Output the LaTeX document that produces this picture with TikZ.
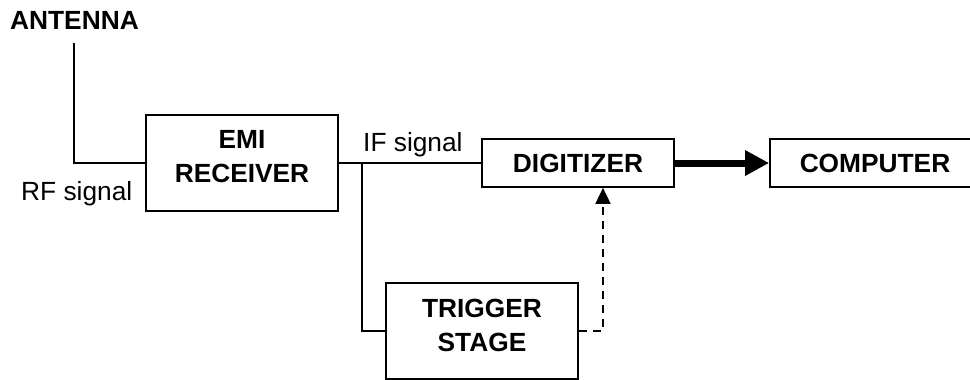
\documentclass[tikz,border=0pt]{standalone}
\usepackage{fontspec}
\setmainfont{Liberation Sans}
\usetikzlibrary{arrows.meta}
\begin{document}
\begin{tikzpicture}[x=1pt,y=-1pt,
  every node/.style={font=\fontsize{26.3}{34}\selectfont, inner sep=0pt},
  blk/.style={draw, line width=1.7pt, align=center, font=\fontsize{26.3}{34}\selectfont\bfseries},
  wire/.style={line width=1.7pt},
  lbl/.style={anchor=base west}]
\useasboundingbox (0,0) rectangle (970,380);
\node[blk, minimum width=192pt, minimum height=96pt, text depth=12.6pt] (emi) at (242,163) {EMI\\RECEIVER};
\node[blk, minimum width=192pt, minimum height=48pt] (dig) at (578,163) {DIGITIZER};
\node[blk, minimum width=210pt, minimum height=48pt] (comp) at (875,163) {COMPUTER};
\node[blk, minimum width=192pt, minimum height=96pt, text depth=11.8pt] (trig) at (482,331) {TRIGGER\\STAGE};
\node[lbl, font=\fontsize{26.3}{34}\selectfont\bfseries] (ant) at (10,30) {ANTENNA};
\node[lbl] (rf) at (21,200) {RF signal};
\node[lbl] (if) at (363,151) {IF signal};
\coordinate (atop) at (74,43);
\coordinate (acorner) at (74,163);
\coordinate (branch) at (362,163);
\coordinate (bcorner) at (362,331);
\coordinate (dcorner) at (603,331);
\draw[wire] (atop) -- (acorner) -- (emi.west);
\draw[wire] (emi.east) -- (dig.west);
\draw[wire] (branch) -- (bcorner) -- (trig.west);
\draw[line width=7pt, -{Triangle[length=24pt,width=24pt]}] (dig.east) -- (comp.west);
\draw[line width=1.7pt, dash pattern=on 8pt off 6pt, -{Triangle[length=16pt,width=15pt]}] (trig.east) -- (dcorner) -- (dcorner |- dig.south);
\end{tikzpicture}
\end{document}
